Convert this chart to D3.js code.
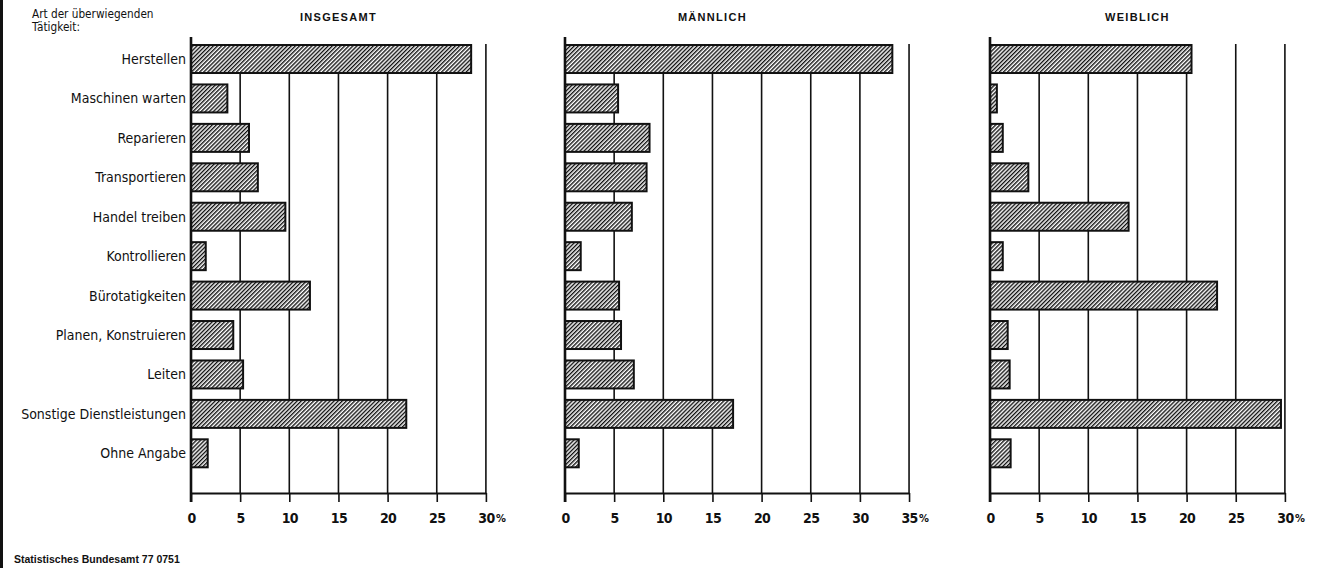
<!DOCTYPE html>
<html>
<head>
<meta charset="utf-8">
<script src="https://cdn.jsdelivr.net/npm/d3@7"></script>
<style>
    body { margin: 0; background: #fff; }
    svg { display: block; }
    text { fill: #111; }
    .narrow { font-family: "Liberation Sans Narrow", "DejaVu Sans Condensed", "Roboto Condensed", sans-serif; font-stretch: condensed; }
</style>
</head>
<body>
<script>

// Art der überwiegenden Tätigkeit, Anteile in %
var categories = ["Herstellen", "Maschinen warten", "Reparieren", "Transportieren",
    "Handel treiben", "Kontrollieren", "Bürotatigkeiten", "Planen, Konstruieren",
    "Leiten", "Sonstige Dienstleistungen", "Ohne Angabe"];

var insgesamt = [28.5, 3.7, 5.9, 6.8, 9.6, 1.5, 12.1, 4.3, 5.3, 21.9, 1.7];
var maennlich = [33.3, 5.4, 8.6, 8.3, 6.8, 1.6, 5.5, 5.7, 7.0, 17.1, 1.4];
var weiblich = [20.5, 0.7, 1.3, 3.9, 14.1, 1.3, 23.1, 1.8, 2.0, 29.6, 2.1];

var panelTitles = ["INSGESAMT", "MÄNNLICH", "WEIBLICH"];
var panelMax = [30, 35, 30];

window.onload = function() {

    const width = 1326,
        height = 568,
        unit = 9.83,               // px per percent point
        axisY = 493,
        gridTop = 44;

    var panelLeft = [191, 565, 990];
    var series = [insgesamt, maennlich, weiblich];

    var svg = d3.select("body").append("svg")
        .attr("width", width)
        .attr("height", height);

    // hatching used in every bar
    var pattern = svg.append("defs").append("pattern")
        .attr("id", "hatch")
        .attr("patternUnits", "userSpaceOnUse")
        .attr("width", 2.9)
        .attr("height", 2.9)
        .attr("patternTransform", "rotate(45)");
    pattern.append("rect")
        .attr("width", 2.9)
        .attr("height", 2.9)
        .attr("fill", "#fff");
    pattern.append("line")
        .attr("x1", 0.7).attr("y1", 0)
        .attr("x2", 0.7).attr("y2", 2.9)
        .attr("stroke", "#111")
        .attr("stroke-width", 1.4);

    // left page border
    svg.append("rect")
        .attr("x", 0).attr("y", 0)
        .attr("width", 3).attr("height", height)
        .attr("fill", "#111");

    var yScale = d3.scaleBand()
        .domain(categories)
        .range([39.3, 39.3 + 39.43 * 11])
        .paddingInner(0.29)
        .paddingOuter(0.145);

    // header of the category column
    svg.append("text")
        .attr("class", "narrow")
        .attr("x", 32).attr("y", 18)
        .style("font-size", "11.7px")
        .text("Art der überwiegenden");
    svg.append("text")
        .attr("class", "narrow")
        .attr("x", 32).attr("y", 31)
        .style("font-size", "11.7px")
        .text("Tätigkeit:");

    // category labels
    svg.append("g")
        .selectAll("text")
        .data(categories)
        .enter().append("text")
        .attr("class", "narrow")
        .attr("x", 186)
        .attr("y", function(d) { return yScale(d) + yScale.bandwidth() / 2; })
        .attr("dy", "0.36em")
        .attr("text-anchor", "end")
        .style("font-size", "14px")
        .text(function(d) { return d; });

    series.forEach(function(values, i) {

        var max = panelMax[i];
        var xScale = d3.scaleLinear()
            .domain([0, max])
            .range([panelLeft[i], panelLeft[i] + max * unit]);
        var ticks = d3.range(0, max + 1, 5);

        var g = svg.append("g").attr("class", "panel");

        // title
        g.append("text")
            .attr("x", xScale(15))
            .attr("y", 21)
            .attr("text-anchor", "middle")
            .style("font-family", "'Liberation Sans', Arial, sans-serif")
            .style("font-size", "11px")
            .style("font-weight", "bold")
            .style("letter-spacing", "1.3px")
            .text(panelTitles[i]);

        // vertical grid lines
        g.append("g")
            .selectAll("line")
            .data(ticks.slice(1))
            .enter().append("line")
            .attr("x1", function(d) { return xScale(d); })
            .attr("x2", function(d) { return xScale(d); })
            .attr("y1", gridTop)
            .attr("y2", axisY)
            .attr("stroke", "#111")
            .attr("stroke-width", 1.6);

        // bottom axis
        var axis = g.append("g")
            .attr("transform", "translate(0," + axisY + ")")
            .call(d3.axisBottom(xScale)
                .tickValues(ticks)
                .tickSize(9)
                .tickSizeOuter(0)
                .tickPadding(11));
        axis.select(".domain")
            .attr("stroke", "#111")
            .attr("stroke-width", 2.2);
        axis.selectAll(".tick line")
            .attr("stroke", "#111")
            .attr("stroke-width", 1.6);
        axis.selectAll(".tick text")
            .attr("class", "narrow")
            .style("font-size", "14px")
            .style("font-weight", "bold")
            .style("letter-spacing", "-0.6px")
            .attr("fill", "#111");
        axis.append("text")
            .attr("class", "narrow")
            .attr("x", xScale(max) + 10)
            .attr("y", 21)
            .attr("dy", "0.71em")
            .attr("text-anchor", "start")
            .style("font-size", "11px")
            .style("font-weight", "bold")
            .attr("fill", "#111")
            .text("%");

        // bars
        g.append("g")
            .selectAll("rect")
            .data(values)
            .enter().append("rect")
            .attr("x", xScale(0))
            .attr("y", function(d, j) { return yScale(categories[j]); })
            .attr("width", function(d) { return xScale(d) - xScale(0); })
            .attr("height", yScale.bandwidth())
            .attr("fill", "url(#hatch)")
            .attr("stroke", "#111")
            .attr("stroke-width", 2);

        // zero line
        g.append("line")
            .attr("x1", xScale(0)).attr("x2", xScale(0))
            .attr("y1", 37).attr("y2", axisY + 9)
            .attr("stroke", "#111")
            .attr("stroke-width", 2.6);
    });

    // source
    svg.append("text")
        .attr("x", 14)
        .attr("y", 563)
        .style("font-family", "'Liberation Sans', Arial, sans-serif")
        .style("font-size", "10.5px")
        .style("font-weight", "bold")
        .text("Statistisches Bundesamt 77 0751");
};
</script>
</body>
</html>
